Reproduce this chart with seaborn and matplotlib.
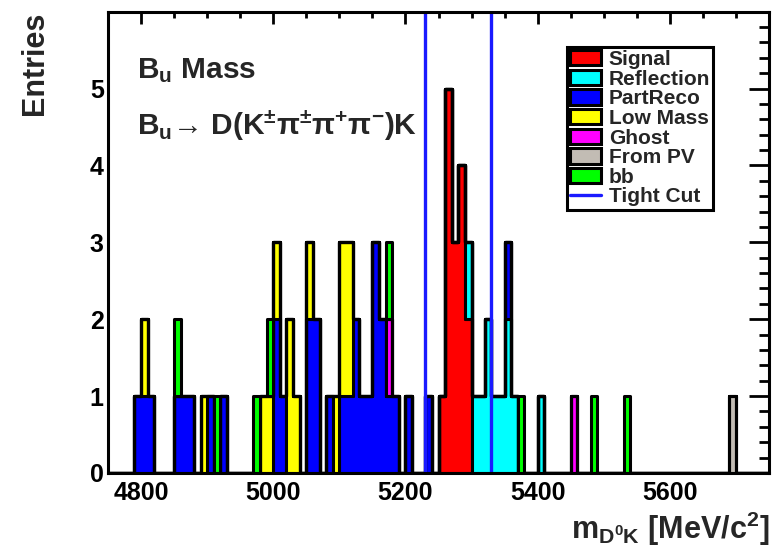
import numpy as np
import pandas as pd
import matplotlib
matplotlib.use("Agg")
import matplotlib.pyplot as plt
import seaborn as sns
from matplotlib.patches import Patch
from matplotlib.lines import Line2D
from matplotlib.ticker import MultipleLocator, FixedLocator

# ---------------- data (bin low edges in MeV, entries per 10 MeV bin) ----------------
signal_bins = [5250, 5260, 5270, 5280, 5290]
signal_n = [1, 5, 3, 4, 2]

reflection_bins = [5290, 5300, 5310, 5320, 5330, 5340, 5350, 5360, 5400]
reflection_n = [1, 1, 1, 2, 1, 1, 2, 1, 1]

partreco_bins = [4790, 4800, 4810, 4850, 4860, 4870, 4900, 4920, 5000, 5010,
                 5050, 5060, 5080, 5100, 5110, 5120, 5130, 5140, 5150, 5160,
                 5170, 5180, 5200, 5230, 5350]
partreco_n = [1, 1, 1, 1, 1, 1, 1, 1, 2, 1,
              2, 2, 1, 1, 1, 2, 1, 1, 3, 2,
              1, 1, 1, 1, 1]

lowmass_bins = [4800, 4890, 4980, 4990, 5000, 5020, 5030, 5050, 5090, 5100, 5110]
lowmass_n = [1, 1, 1, 1, 1, 2, 1, 1, 1, 2, 2]

ghost_bins = [5170, 5450]
ghost_n = [1, 1]

frompv_bins = [5690]
frompv_n = [1]

bb_bins = [4850, 4910, 4970, 4990, 5170, 5370, 5480, 5530]
bb_n = [1, 1, 1, 1, 1, 1, 1, 1]

components = ["Signal", "Reflection", "PartReco", "Low Mass", "Ghost", "From PV", "bb"]
colors = ["#ff0000", "#00ffff", "#0000ff", "#ffff00", "#ff00ff", "#c2bcb4", "#00ff00"]
tight_cut = [5229.3, 5329.3]
bin_width = 10
x_range = (4750, 5750)

series = {
    "Signal": (signal_bins, signal_n),
    "Reflection": (reflection_bins, reflection_n),
    "PartReco": (partreco_bins, partreco_n),
    "Low Mass": (lowmass_bins, lowmass_n),
    "Ghost": (ghost_bins, ghost_n),
    "From PV": (frompv_bins, frompv_n),
    "bb": (bb_bins, bb_n),
}
rows = []
for name, (b, n) in series.items():
    for lo, c in zip(b, n):
        rows.append({"mass": lo + bin_width / 2, "component": name, "count": float(c)})
df = pd.DataFrame(rows)

# ---------------- style ----------------
sns.set_theme(style="white")
plt.rcParams["font.family"] = ["Liberation Sans", "DejaVu Sans"]
plt.rcParams["font.weight"] = "bold"
plt.rcParams["mathtext.fontset"] = "custom"
plt.rcParams["mathtext.rm"] = "Liberation Sans:bold"
plt.rcParams["mathtext.it"] = "Liberation Sans:bold"
plt.rcParams["mathtext.bf"] = "Liberation Sans:bold"
plt.rcParams["mathtext.sf"] = "Liberation Sans:bold"
plt.rcParams["mathtext.default"] = "rm"

W, H = 774, 552
fig = plt.figure(figsize=(W / 100, H / 100), dpi=100)
ax = fig.add_axes([108 / W, 1 - 473 / H, (769 - 108) / W, (473 - 12) / H])

palette = dict(zip(components, colors))
hue_order = components[::-1]  # seaborn stacks last level at bottom
sns.histplot(data=df, x="mass", weights="count", hue="component",
             hue_order=hue_order, palette=palette,
             binwidth=bin_width, binrange=x_range,
             multiple="stack", element="step", fill=True, alpha=1,
             edgecolor="black", linewidth=2.2, legend=False, ax=ax)

for xc in tight_cut:
    ax.axvline(xc, color="#1a1aff", lw=2.4, zorder=5)

ax.set_xlim(*x_range)
ax.set_ylim(0, 5.995)

# ticks (ROOT style: inside, on all sides)
ax.xaxis.set_major_locator(FixedLocator([4800, 5000, 5200, 5400, 5600]))
ax.xaxis.set_minor_locator(MultipleLocator(50))
ax.yaxis.set_major_locator(MultipleLocator(1))
ax.yaxis.set_minor_locator(MultipleLocator(0.2))
ax.tick_params(axis="both", which="both", direction="in", top=True, right=True,
               width=2.0, color="black", labelcolor="black")
ax.tick_params(axis="x", which="major", length=8.6, labelsize=18, pad=6)
ax.tick_params(axis="x", which="minor", length=4.0)
ax.tick_params(axis="y", which="major", length=14.4, labelsize=18, pad=3)
ax.tick_params(axis="y", which="minor", length=7.2)
for lab in ax.get_xticklabels() + ax.get_yticklabels():
    lab.set_fontweight("bold")
for sp in ax.spines.values():
    sp.set_color("black")
    sp.set_linewidth(2.2)
    sp.set_zorder(6)

ax.set_xlabel(r"m$_{\mathregular{D^{0}K}}$ [MeV/c$^{2}$]", fontsize=22,
              fontweight="bold", loc="right")
ax.xaxis.set_label_coords(1.0, -0.08)
ax.set_ylabel("Entries", fontsize=22, fontweight="bold", loc="top")
ax.yaxis.set_label_coords(-0.087, 1.0)

ax.text(137 / W, 1 - 78 / H, r"B$_{u}$ Mass", transform=fig.transFigure,
        fontsize=21.5, fontweight="bold", ha="left", va="baseline")
ax.text(137 / W, 1 - 135 / H, "B$_{u}$→ D(K$^{±}$π$^{±}$π$^{+}$π$^{-}$)K",
        transform=fig.transFigure, fontsize=21.5, fontweight="bold",
        ha="left", va="baseline")

handles = [Patch(facecolor=c, edgecolor="black", linewidth=2.2) for c in colors]
handles.append(Line2D([0], [0], color="#1a1aff", lw=2.4))
labels = components + ["Tight Cut"]
leg = ax.legend(handles, labels, loc="upper left",
                bbox_to_anchor=(567 / W, 1 - 47 / H), bbox_transform=fig.transFigure,
                fontsize=15, frameon=True, fancybox=False, framealpha=1,
                edgecolor="black", borderpad=0.15, labelspacing=0.03,
                handlelength=1.5, handleheight=0.75, handletextpad=0.35,
                borderaxespad=0)
leg.get_frame().set_linewidth(2.2)
for t in leg.get_texts():
    t.set_fontweight("bold")

fig.savefig("out.png", dpi=100)
